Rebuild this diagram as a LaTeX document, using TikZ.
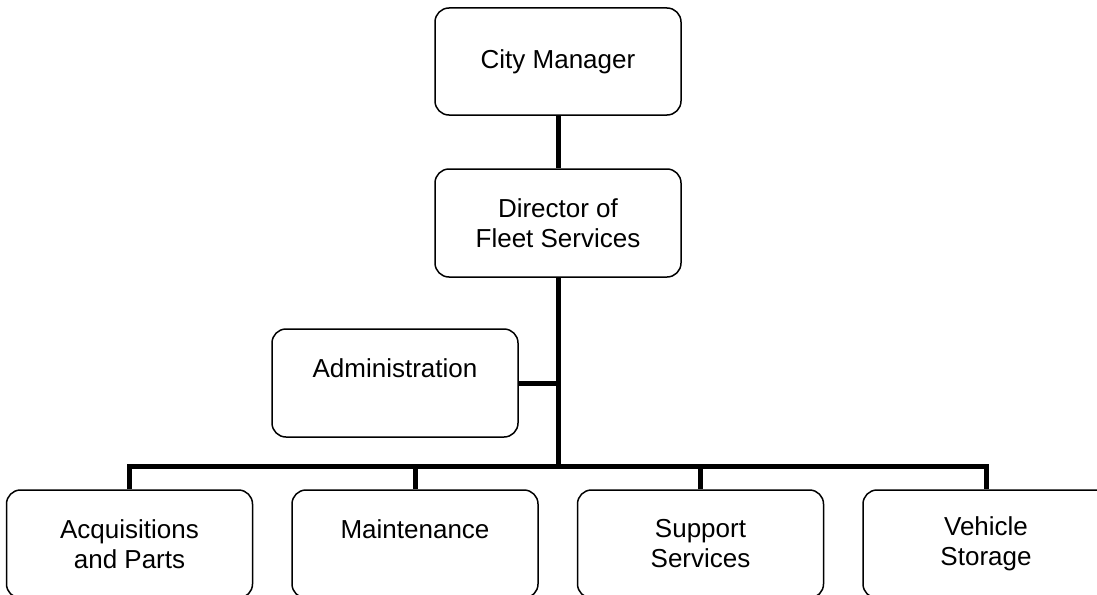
\documentclass[tikz,border=0pt]{standalone}
\usepackage{fontspec}
\setmainfont{Liberation Sans}

\begin{document}
\begin{tikzpicture}[x=1pt, y=-1pt,
    unit/.style={draw, line width=1.5pt, rounded corners=14pt,
      minimum width=246pt, minimum height=108pt, inner sep=0pt,
      align=center, font=\fontsize{26}{30}\selectfont},
    link/.style={line width=5pt}]
      \clip (0,0) rectangle (1097,594);
      \node[unit, minimum height=107pt] (cm) at (558,61.5) {City Manager};
      \node[unit] (dir) at (558,223) {Director of\\Fleet Services};
      \node[unit] (adm) at (395,383) {Administration\\ \mbox{}};
      \node[unit] (acq) at (129.5,544) {Acquisitions\\and Parts};
      \node[unit] (mnt) at (415,544) {Maintenance\\ \mbox{}};
      \node[unit] (sup) at (700.5,544) {Support\\Services};
      \node[unit] (veh) at (986,544) {Vehicle\\Storage};
      \coordinate (bus) at (558,466);
      \draw[link] (cm.south) -- (dir.north);
      \draw[link] (dir.south) -- (bus);
      \draw[link] (adm.east) -- (adm.east -| dir.south);
      \draw[link] (acq.north) |- (bus) -| (veh.north);
      \draw[link] (mnt.north) -- (mnt.north |- bus);
      \draw[link] (sup.north) -- (sup.north |- bus);
    \end{tikzpicture}
\end{document}
